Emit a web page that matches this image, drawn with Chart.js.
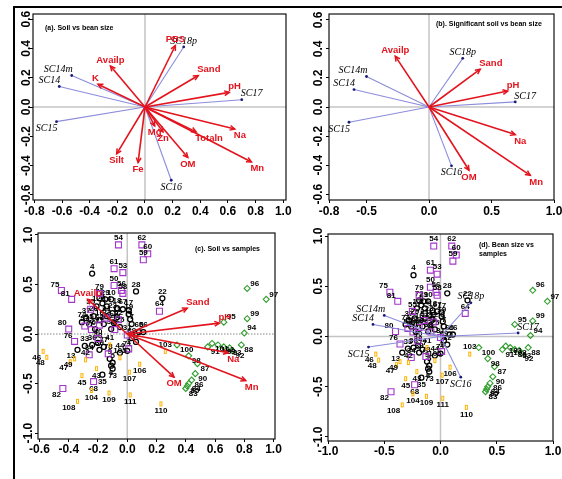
<!DOCTYPE html>
<html><head><meta charset="utf-8">
<script src="https://cdn.jsdelivr.net/npm/chart.js@4.4.0/dist/chart.umd.min.js"></script>
<style>
html,body{margin:0;padding:0;background:#fff;}
#wrap{position:relative;width:562px;height:479px;overflow:hidden;background:#fff;}
canvas{position:absolute;left:0;top:0;}
.fr{position:absolute;background:#000;}
</style></head><body>
<div id="wrap">
<canvas id="ca" width="562" height="479"></canvas>
<canvas id="cb" width="562" height="479"></canvas>
<canvas id="cc" width="562" height="479"></canvas>
<canvas id="cd" width="562" height="479"></canvas>
<div class="fr" style="left:13px;top:6px;width:2px;height:473px"></div>
<div class="fr" style="left:13px;top:6px;width:549px;height:2px"></div>
</div>
<script>
// ---------- DATA ----------
// Panel (a): all soil variables vs bean size
const soilA  = ['PBS','Availp','K','Sand','pH','Na','Totaln','Mn','OM','Zn','Mg','Silt','Fe'];
const soilAx = [0.22,-0.25,-0.34,0.385,0.61,0.65,0.37,0.77,0.31,0.13,0.07,-0.205,-0.05];
const soilAy = [0.42,0.28,0.155,0.215,0.10,-0.15,-0.17,-0.375,-0.345,-0.17,-0.13,-0.32,-0.38];
const beanA  = ['SC18p','SC14m','SC14','SC17','SC15','SC16'];
const beanAx = [0.28,-0.53,-0.62,0.70,-0.64,0.19];
const beanAy = [0.41,0.215,0.14,0.05,-0.10,-0.50];
// Panels (b),(c),(d): significant soil variables and bean size
const soilB  = ['Availp','Sand','pH','Na','Mn','OM'];
const soilBx = [-0.27,0.41,0.63,0.69,0.81,0.32];
const soilBy = [0.35,0.26,0.11,-0.19,-0.47,-0.435];
const beanB  = ['SC18p','SC14m','SC14','SC17','SC15','SC16'];
const beanBx = [0.27,-0.50,-0.60,0.69,-0.64,0.18];
const beanBy = [0.335,0.21,0.12,0.035,-0.105,-0.405];
// Samples (c),(d)
const blackLab = [4,28,22,72,29,10,2,12,14,18,67,17,19,3,7,20,37,74,15,16,21,23,11,24,25,26,27,30,65,66,69,32,13,33,36,38,39,44,71,73,35,77,9,5,6];
const blackX = [-0.24,0.06,0.24,-0.19,-0.15,-0.11,-0.17,-0.21,-0.14,-0.07,-0.03,0.01,0.01,0.02,0.03,-0.23,-0.28,-0.31,-0.26,-0.19,-0.14,-0.10,-0.07,-0.09,-0.05,-0.16,-0.22,-0.11,0.08,0.11,0.03,0.06,-0.34,-0.29,-0.24,-0.20,-0.19,-0.05,0.00,-0.10,-0.17,-0.16,-0.12,-0.10,-0.11];
const blackY = [0.61,0.43,0.36,0.36,0.35,0.35,0.31,0.28,0.28,0.26,0.25,0.24,0.20,0.15,0.10,0.18,0.16,0.12,0.10,0.14,0.18,0.21,0.17,0.11,0.07,0.10,0.05,0.05,0.02,0.02,-0.04,-0.08,-0.16,-0.12,-0.11,-0.09,-0.16,-0.19,-0.17,-0.35,-0.41,-0.13,-0.25,-0.29,-0.32];
const purpleLab = [54,62,60,59,61,53,75,81,79,50,56,58,64,55,80,57,51,52,63,70,8,1,68,82,76,40,31,34,78];
const purpleX = [-0.06,0.10,0.14,0.11,-0.09,-0.03,-0.45,-0.38,-0.19,-0.09,-0.04,-0.03,0.22,-0.25,-0.40,-0.29,-0.14,-0.06,-0.19,-0.245,-0.085,0.01,-0.23,-0.44,-0.36,-0.20,0.00,-0.26,-0.13];
const purpleY = [0.90,0.90,0.81,0.75,0.66,0.62,0.44,0.35,0.41,0.49,0.44,0.41,0.23,0.25,0.05,0.08,0.16,0.145,0.09,0.045,0.045,-0.15,-0.48,-0.55,-0.075,-0.045,-0.01,-0.21,-0.20];
const orangeLab = [46,48,47,42,45,104,108,109,111,110,107,106,103,43,41,49,105];
const orangeX = [-0.575,-0.55,-0.39,-0.285,-0.31,-0.245,-0.34,-0.125,0.02,0.23,0.015,0.085,0.26,-0.21,-0.12,-0.36,-0.05];
const orangeY = [-0.175,-0.235,-0.28,-0.26,-0.42,-0.57,-0.68,-0.595,-0.615,-0.705,-0.385,-0.305,-0.175,-0.35,-0.11,-0.25,-0.24];
const greenLab = [83,84,85,86,87,88,89,90,91,92,93,94,95,96,97,98,99,100,101,102];
const greenX = [0.40,0.42,0.41,0.44,0.48,0.78,0.66,0.465,0.55,0.72,0.70,0.80,0.66,0.82,0.95,0.42,0.82,0.34,0.58,0.62];
const greenY = [-0.55,-0.50,-0.525,-0.465,-0.30,-0.11,-0.13,-0.40,-0.13,-0.17,-0.14,0.01,0.12,0.46,0.35,-0.22,0.155,-0.11,-0.095,-0.11];
// Tick labels
const xTicksA = [-0.8,-0.6,-0.4,-0.2,0,0.2,0.4,0.6,0.8,1.0];
const yTicksAB = [-0.6,-0.4,-0.2,0,0.2,0.4,0.6];
const xTicksB = [-0.8,-0.5,0,0.5,1.0];
const xTicksC = [-0.6,-0.4,-0.2,0,0.2,0.4,0.6,0.8,1.0];
const xTicksD = [-1,-0.5,0,0.5,1];
const yTicksCD = [-1,-0.5,0,0.5,1];

// ---------- STYLE ----------
const SANS = "'Liberation Sans', Arial, Helvetica, sans-serif";
const SERIF = "'Liberation Serif', 'Times New Roman', serif";
const RED = '#e3141e', BLUE = '#8c8cdc', NAVY = '#1c1c78';
const PURPLE = '#a335c9', GREEN = '#2f9e2c', ORANGE = '#ffb300';

function orangeMarker(){
  const c = document.createElement('canvas'); c.width = 5; c.height = 7;
  const g = c.getContext('2d'); g.strokeStyle = ORANGE; g.lineWidth = 1;
  g.strokeRect(1.5,1.5,2,4); return c;
}
const OM_MARK = orangeMarker();

function vecSets(names, xs, ys, kind){
  return names.map((n,i)=>({
    label:n, kind, showLine:true,
    data:[{x:0,y:0},{x:xs[i],y:ys[i]}],
    borderColor: kind==='soil'?RED:BLUE,
    borderWidth: kind==='soil'?1.6:1.1,
    pointRadius: kind==='soil'?0:[0,1.4],
    pointBackgroundColor: NAVY, pointBorderColor: NAVY, pointBorderWidth:0
  }));
}
function sampleSet(labs, xs, ys, st){
  return Object.assign({kind:'sample', names:labs, showLine:false,
    data: labs.map((l,i)=>({x:xs[i], y:ys[i]})),
    pointBackgroundColor:'rgba(0,0,0,0)', pointBorderWidth:1.1}, st);
}
function samples(){
  return [
    sampleSet(greenLab, greenX, greenY, {pointStyle:'rectRot', pointRadius:3, pointBorderColor:GREEN}),
    sampleSet(orangeLab, orangeX, orangeY, {pointStyle:OM_MARK, pointRadius:3}),
    sampleSet(purpleLab, purpleX, purpleY, {pointStyle:'rect', pointRadius:4.2, pointBorderColor:PURPLE}),
    sampleSet(blackLab, blackX, blackY, {pointStyle:'circle', pointRadius:2.5, pointBorderColor:'#000', pointBorderWidth:1.3})
  ];
}

function head(ctx,x0,y0,x1,y1,len){
  const a = Math.atan2(y1-y0,x1-x0), w = Math.PI/7;
  ctx.beginPath();
  ctx.moveTo(x1-len*Math.cos(a-w), y1-len*Math.sin(a-w));
  ctx.lineTo(x1,y1);
  ctx.lineTo(x1-len*Math.cos(a+w), y1-len*Math.sin(a+w));
  ctx.stroke();
}

const overlay = {
  id:'overlay',
  beforeDatasetsDraw(chart){
    const {ctx, chartArea:a, scales:{x,y}} = chart;
    const o = chart.options.plugins.overlay;
    const x0 = x.getPixelForValue(0), y0 = y.getPixelForValue(0);
    ctx.save();
    ctx.strokeStyle = '#c4c4c4'; ctx.lineWidth = 1.5;
    ctx.beginPath(); ctx.moveTo(x0,a.top); ctx.lineTo(x0,a.bottom); ctx.stroke();
    if (o.dottedH){ ctx.setLineDash([1.5,1.5]); ctx.strokeStyle='#888'; ctx.lineWidth=1; }
    ctx.beginPath(); ctx.moveTo(a.left,y0); ctx.lineTo(a.right,y0); ctx.stroke();
    ctx.restore();
  },
  afterDatasetDraw(chart, args){
    const ds = chart.data.datasets[args.index];
    const pts = args.meta.data;
    const ctx = chart.ctx, o = chart.options.plugins.overlay;
    ctx.save();
    if (ds.kind==='soil' || ds.kind==='bean'){
      const p0 = pts[0], p1 = pts[1];
      const xv = ds.data[1].x, yv = ds.data[1].y;
      if (ds.kind==='soil'){ ctx.strokeStyle = RED; ctx.lineWidth = 1.5; head(ctx,p0.x,p0.y,p1.x,p1.y,5.5); }
      ctx.font = ds.kind==='soil' ? `bold ${o.soilFont}px ${SANS}` : `italic ${o.beanFont}px ${SERIF}`;
      ctx.fillStyle = ds.kind==='soil' ? RED : '#000';
      const align = Math.abs(xv) > Math.abs(yv) ? (xv>0?'left':'right') : 'center';
      ctx.textAlign = align;
      ctx.textBaseline = yv>=0 ? 'bottom' : 'top';
      const tx = p1.x + (align==='left'?-1:align==='right'?1:0);
      const ty = p1.y + (yv>=0?-1:2);
      ctx.fillText(ds.label, tx, ty);
    } else if (ds.kind==='sample'){
      ctx.font = `bold ${o.sampleFont}px ${SANS}`; ctx.fillStyle = '#000';
      pts.forEach((p,j)=>{
        const xv = ds.data[j].x, yv = ds.data[j].y;
        let tx = p.x, ty = p.y;
        if (xv > 0.3){ ctx.textAlign='left'; tx = p.x+3; if (yv>=0){ctx.textBaseline='bottom'; ty=p.y-1;} else {ctx.textBaseline='top'; ty=p.y+1;} }
        else if (xv < -0.33){ ctx.textAlign='right'; tx = p.x-2; if (yv>-0.1){ctx.textBaseline='bottom'; ty=p.y-2;} else {ctx.textBaseline='top'; ty=p.y+2;} }
        else { ctx.textAlign='center'; if (yv>-0.3){ctx.textBaseline='bottom'; ty=p.y-3;} else {ctx.textBaseline='top'; ty=p.y+3;} }
        ctx.fillText(String(ds.names[j]), tx, ty);
      });
    }
    ctx.restore();
  },
  afterDraw(chart){
    const {ctx, chartArea:a, scales:{y}} = chart;
    const o = chart.options.plugins.overlay;
    ctx.save();
    ctx.strokeStyle = '#111'; ctx.lineWidth = 1.2;
    ctx.strokeRect(a.left, a.top, a.right-a.left, a.bottom-a.top);
    ctx.fillStyle = '#000';
    ctx.font = `bold 12px ${SANS}`;
    ctx.textAlign = 'center'; ctx.textBaseline = 'middle';
    y.ticks.forEach(t=>{
      const py = y.getPixelForValue(t.value);
      ctx.save(); ctx.translate(a.left + o.yLabDx, py); ctx.rotate(-Math.PI/2);
      ctx.fillText(t.value.toFixed(1), 0, 0); ctx.restore();
    });
    ctx.font = `bold 7px ${SANS}`; ctx.textAlign='left'; ctx.textBaseline='middle';
    o.title.forEach((line,i)=> ctx.fillText(line, a.left+o.titleDx, a.top+o.titleDy+i*9));
    ctx.restore();
  }
};

function makeChart(id, area, xr, yr, xt, yt, datasets, extra){
  const YW = 4, XH = 20;
  const fmt = v => (Math.abs(v)<1e-9?0:v).toFixed(1);
  return new Chart(document.getElementById(id), {
    type:'scatter',
    data:{datasets},
    plugins:[overlay],
    options:{
      responsive:false, animation:false, devicePixelRatio:1,
      layout:{padding:{left:area.l-YW, top:area.t, right:562-area.r, bottom:479-area.b-XH}},
      plugins:{legend:{display:false}, tooltip:{enabled:false},
        overlay:Object.assign({soilFont:9.5, beanFont:10, sampleFont:8, dottedH:false}, extra)},
      scales:{
        x:{type:'linear', min:xr[0], max:xr[1],
          afterBuildTicks:s=>{ s.ticks = xt.map(v=>({value:v})); },
          afterFit:s=>{ s.height = XH; s.paddingLeft = 0; s.paddingRight = 0; },
          ticks:{callback:v=>fmt(v), autoSkip:false, maxRotation:0, color:'#000', padding:extra.xPad,
            font:{family:SANS, size:12, weight:'bold'}},
          grid:{display:true, drawOnChartArea:false, drawTicks:true, tickLength:3, color:'#000', lineWidth:1},
          border:{display:false}},
        y:{type:'linear', min:yr[0], max:yr[1],
          afterBuildTicks:s=>{ s.ticks = yt.map(v=>({value:v})); },
          afterFit:s=>{ s.width = YW; s.paddingTop = 0; s.paddingBottom = 0; },
          ticks:{display:false},
          grid:{display:true, drawOnChartArea:false, drawTicks:true, tickLength:3, color:'#000', lineWidth:1},
          border:{display:false}}
      }
    }
  });
}

makeChart('ca', {l:33,t:14,r:286,b:200}, [-0.81,1.02], [-0.635,0.635], xTicksA, yTicksAB,
  [...vecSets(soilA,soilAx,soilAy,'soil'), ...vecSets(beanA,beanAx,beanAy,'bean')],
  {title:['(a). Soil vs bean size'], titleDx:12, titleDy:14, yLabDx:-6, xPad:1});
makeChart('cb', {l:329,t:14,r:554,b:200}, [-0.8,1.0], [-0.64,0.64], xTicksB, yTicksAB,
  [...vecSets(soilB,soilBx,soilBy,'soil'), ...vecSets(beanB,beanBx,beanBy,'bean')],
  {title:['(b). Significant soil vs bean size'], titleDx:107, titleDy:10, yLabDx:-10, xPad:1});
makeChart('cc', {l:38,t:233,r:275,b:439}, [-0.61,1.01], [-1.06,1.02], xTicksC, yTicksCD,
  [...vecSets(soilB,soilBx,soilBy,'soil'), ...samples()],
  {title:['(c). Soil vs samples'], titleDx:157, titleDy:16, yLabDx:-9, xPad:0, dottedH:true});
makeChart('cd', {l:328,t:234,r:553,b:441}, [-1.0,1.0], [-1.04,1.02], xTicksD, yTicksCD,
  [...vecSets(beanB,beanBx,beanBy,'bean'), ...samples()],
  {title:['(d). Bean size vs','samples'], titleDx:151, titleDy:11, yLabDx:-9, xPad:0});
</script>
</body></html>
